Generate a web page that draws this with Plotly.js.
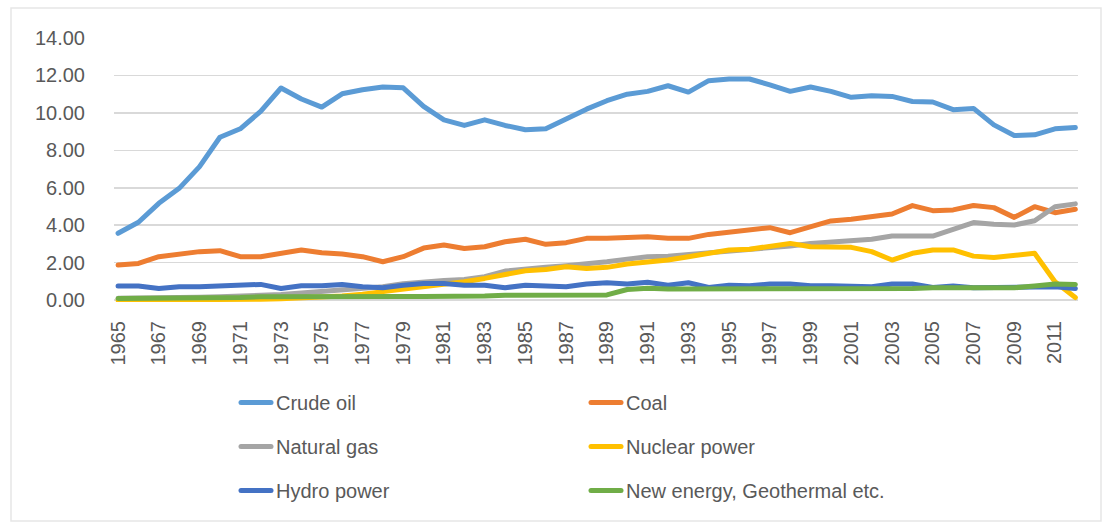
<!DOCTYPE html>
<html>
<head>
<meta charset="utf-8">
<script src="https://cdn.plot.ly/plotly-3.0.1.min.js"></script>
<style>
html,body{margin:0;padding:0;background:#fff;}
#chart{width:1107px;height:523px;}
.js-line{stroke-linejoin:round;stroke-linecap:round;}
</style>
</head>
<body>
<div id="chart"></div>
<script>
const years = [1965,1966,1967,1968,1969,1970,1971,1972,1973,1974,1975,1976,1977,1978,1979,1980,1981,1982,1983,1984,1985,1986,1987,1988,1989,1990,1991,1992,1993,1994,1995,1996,1997,1998,1999,2000,2001,2002,2003,2004,2005,2006,2007,2008,2009,2010,2011,2012];
const tickYears = [1965,1967,1969,1971,1973,1975,1977,1979,1981,1983,1985,1987,1989,1991,1993,1995,1997,1999,2001,2003,2005,2007,2009,2011];
const tickLabels = tickYears.map(String);
const yTickVals = [0,2,4,6,8,10,12,14];
const yTickLabels = ["0.00","2.00","4.00","6.00","8.00","10.00","12.00","14.00"];

const crudeOil = [3.57,4.16,5.17,5.97,7.13,8.70,9.15,10.08,11.33,10.74,
  10.31,11.02,11.24,11.38,11.34,10.35,9.63,9.33,9.63,9.33,
  9.10,9.15,9.67,10.20,10.65,11.00,11.15,11.45,11.11,11.72,
  11.81,11.81,11.50,11.15,11.38,11.15,10.83,10.92,10.88,10.61,
  10.58,10.17,10.24,9.36,8.79,8.83,9.15,9.22];
const coal = [1.87,1.96,2.32,2.44,2.59,2.64,2.32,2.32,2.53,2.68,
  2.53,2.46,2.32,2.05,2.32,2.78,2.94,2.76,2.85,3.12,
  3.25,2.98,3.07,3.30,3.30,3.34,3.39,3.30,3.30,3.51,
  3.65,3.73,3.87,3.60,3.92,4.23,4.32,4.46,4.60,5.05,
  4.78,4.82,5.05,4.94,4.42,4.99,4.67,4.85];
const naturalGas = [0.10,0.10,0.12,0.14,0.16,0.18,0.20,0.23,0.30,0.38,
  0.45,0.52,0.62,0.72,0.88,0.98,1.05,1.10,1.25,1.55,
  1.67,1.75,1.84,1.93,2.05,2.19,2.32,2.35,2.44,2.50,
  2.59,2.68,2.76,2.89,3.03,3.12,3.16,3.25,3.42,3.39,
  3.42,3.78,4.14,4.05,4.01,4.24,4.99,5.14];
const nuclear = [0.00,0.00,0.01,0.01,0.02,0.03,0.04,0.05,0.07,0.10,
  0.15,0.22,0.32,0.45,0.55,0.68,0.80,0.98,1.16,1.37,
  1.57,1.64,1.78,1.69,1.75,1.93,2.02,2.14,2.32,2.50,
  2.68,2.72,2.89,3.03,2.85,2.82,2.82,2.59,2.14,2.50,
  2.68,2.68,2.35,2.28,2.41,2.50,0.98,0.14];
const hydro = [0.75,0.75,0.62,0.71,0.71,0.75,0.80,0.84,0.62,0.77,
  0.77,0.84,0.71,0.66,0.80,0.89,0.89,0.80,0.80,0.66,
  0.80,0.77,0.71,0.86,0.93,0.86,0.95,0.80,0.93,0.68,
  0.80,0.77,0.86,0.86,0.77,0.77,0.75,0.72,0.86,0.86,
  0.68,0.75,0.66,0.66,0.66,0.71,0.71,0.62];
const newEnergy = [0.09,0.09,0.09,0.10,0.10,0.11,0.14,0.18,0.19,0.20,
  0.20,0.21,0.21,0.21,0.20,0.19,0.19,0.21,0.22,0.26,
  0.27,0.27,0.27,0.27,0.28,0.57,0.64,0.59,0.59,0.59,
  0.62,0.60,0.60,0.60,0.60,0.60,0.61,0.61,0.62,0.62,
  0.66,0.66,0.66,0.66,0.66,0.75,0.86,0.84];

const seriesNames = ["Crude oil","Coal","Natural gas","Nuclear power","Hydro power","New energy, Geothermal etc."];
const seriesData = [crudeOil, coal, naturalGas, nuclear, hydro, newEnergy];
const seriesColors = ["#5B9BD5","#ED7D31","#A5A5A5","#FFC000","#4472C4","#70AD47"];
const seriesLegend = ["legend","legend2","legend","legend2","legend","legend2"];

const traces = seriesNames.map((name,i)=>({
  type:"scatter", mode:"lines", name:name, x:years, y:seriesData[i],
  line:{color:seriesColors[i], width:5},
  legend:seriesLegend[i], legendgroup:"g"+i, hoverinfo:"x+y+name"
}));

const fontFam = "Liberation Sans, Arial, sans-serif";
const legendCommon = {
  xref:"container", yref:"container", xanchor:"left", yanchor:"top",
  orientation:"v", traceorder:"grouped", tracegroupgap:15,
  font:{family:fontFam, size:20, color:"#595959"},
  bgcolor:"rgba(0,0,0,0)", itemwidth:30
};

const layout = {
  width:1107, height:523,
  margin:{l:114, r:29, t:38, b:221, pad:0, autoexpand:false},
  paper_bgcolor:"#ffffff", plot_bgcolor:"#ffffff",
  font:{family:fontFam, color:"#595959"},
  xaxis:{
    range:[1964.8, 2012.13], tickmode:"array", tickvals:tickYears, ticktext:tickLabels,
    tickangle:-90, tickfont:{family:fontFam, size:20, color:"#595959"},
    showgrid:false, zeroline:false, showline:false, ticks:"", ticklabelstandoff:14,
    automargin:false, fixedrange:true
  },
  yaxis:{
    range:[-0.1, 14], tickmode:"array", tickvals:yTickVals, ticktext:yTickLabels,
    tickfont:{family:fontFam, size:20, color:"#595959"},
    showgrid:true, gridcolor:"#D9D9D9", gridwidth:1.5,
    zeroline:true, zerolinecolor:"#D9D9D9", zerolinewidth:1.5,
    showline:false, ticks:"", ticklabelstandoff:28, automargin:false, fixedrange:true
  },
  legend:Object.assign({}, legendCommon, {x:236/1107, y:1-383/523}),
  legend2:Object.assign({}, legendCommon, {x:586/1107, y:1-383/523}),
  showlegend:true,
  shapes:[{
    type:"rect", xref:"paper", yref:"paper",
    x0:(11-114)/964, x1:(1101-114)/964,
    y0:(264-(521-38))/264, y1:(264-(8-38))/264,
    line:{color:"#E6E6E6", width:1.5}, fillcolor:"rgba(0,0,0,0)", layer:"below"
  }]
};

Plotly.newPlot("chart", traces, layout, {displayModeBar:false, staticPlot:true});
</script>
</body>
</html>
